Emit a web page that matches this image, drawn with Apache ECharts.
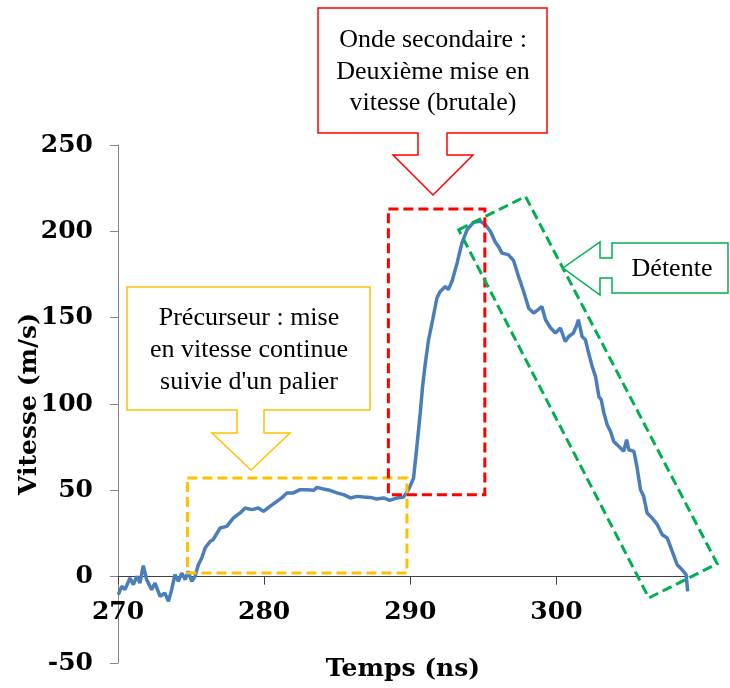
<!DOCTYPE html>
<html>
<head>
<meta charset="utf-8">
<script src="https://cdn.jsdelivr.net/npm/echarts@6.0.0/dist/echarts.min.js"></script>
<style>
  html, body { margin: 0; padding: 0; background: #fff; }
  #main { width: 730px; height: 688px; }
</style>
</head>
<body>
<div id="main"></div>
<script>
// temps (ns) et vitesse (m/s)
var temps = [270.02, 270.25, 270.48, 270.82, 271.05, 271.28, 271.5, 271.73, 271.96, 272.3,
  272.53, 272.88, 273.2, 273.45, 273.67, 273.9, 274.13, 274.36, 274.6, 274.8,
  275.05, 275.27, 275.5, 275.73, 275.96, 276.3, 276.5, 276.99, 277.44, 277.9,
  278.36, 278.7, 279.16, 279.6, 279.95, 280.4, 280.87, 281.2, 281.55, 282,
  282.46, 282.9, 283.4, 283.6, 284.06, 284.5, 284.98, 285.43, 285.9, 286.35,
  286.8, 287.26, 287.7, 288.17, 288.6, 289.09, 289.54, 289.88, 290.22, 290.45,
  290.68, 290.84, 291.03, 291.25, 291.53, 291.82, 292.05, 292.4, 292.6, 292.85,
  293.2, 293.53, 293.88, 294.33, 294.8, 295.14, 295.48, 295.8, 296.05, 296.27,
  296.7, 297.07, 297.4, 297.76, 298.1, 298.44, 298.8, 299.0, 299.25, 299.6,
  299.93, 300.27, 300.6, 300.84, 301.16, 301.4, 301.5, 301.75, 301.98, 302.2,
  302.44, 302.67, 302.9, 303.06, 303.24, 303.47, 303.7, 303.92, 304.38, 304.6,
  304.8, 304.95, 305.3, 305.5, 305.75, 305.97, 306.2, 306.55, 306.9, 307.24,
  307.58, 307.92, 308.26, 308.6, 308.87, 308.98];
var vitesse = [-10.4, -5.6, -7.5, -0.8, -4.6, 0.2, -3.7, 6.4, -1.7, -7.5,
  -3.7, -11.4, -9.5, -14.3, -7.5, 1.2, -2.7, 2.1, -1.7, 3.1,
  -2.7, 0.2, 6.9, 10.8, 16.6, 20.4, 21.4, 28.2, 29.1, 34,
  36.9, 39.8, 38.8, 39.8, 37.8, 40.7, 43.6, 45.6, 48.5, 48.5,
  50.4, 50.4, 50, 51.7, 50.8, 50, 48.5, 47.5, 45.6, 46.5,
  46.1, 45.9, 45, 45.6, 44.2, 45.6, 46.1, 50.4, 57, 75.4,
  94.8, 110.2, 123.7, 137.2, 148.8, 161.4, 165.2, 168.1, 166.2, 171,
  181.6, 193.2, 200.9, 205.2, 205.8, 203.8, 200, 194, 191, 187.4,
  186.5, 183, 174, 165, 155.5, 152.7, 155, 156.5, 148.8, 144,
  141.1, 144, 136.2, 139.1, 141.1, 145.9, 148.8, 139.1, 137.2, 129.5,
  121.8, 116, 104.4, 102.5, 95, 88, 84.1, 78.3, 74.5, 72.6,
  79.3, 73.5, 72.6, 63.9, 50.4, 46.5, 36.9, 33.9, 30.1, 24.3,
  22.4, 14.6, 6.9, 4, 1.2, -8.5];
var xTicks = [270, 280, 290, 300];

// cadres en pointillés (coordonnées données)
var cadrePrecurseur = [[274.75, 57.1], [289.77, 57.1], [289.77, 2.1], [274.75, 2.1]];
var cadreOnde = [[288.5, 212.9], [295.1, 212.9], [295.1, 47.5], [288.5, 47.5]];
var cadreDetente = [[293.31, 200.9], [297.88, 220.2], [311.0, 7.5], [306.32, -12.3]];

var myChart = echarts.init(document.getElementById('main'));

var data = [];
for (var i = 0; i < temps.length; i++) {
    data.push([temps[i], vitesse[i]]);
}

var axisFont = { fontFamily: 'DejaVu Serif', fontWeight: 'bold', fontSize: 25, color: '#000' };

myChart.setOption({
    animation: false,
    grid: { left: 118, right: 42, top: 145, bottom: 25, containLabel: false, outerBoundsMode: 'none' },
    xAxis: {
        type: 'value', min: 270, max: 309,
        name: 'Temps (ns)', nameLocation: 'middle', nameGap: 80, nameMoveOverlap: false,
        nameTextStyle: axisFont,
        axisLine: { onZero: false, lineStyle: { color: '#404040', width: 1 } },
        axisTick: { customValues: xTicks, length: 8, lineStyle: { color: '#404040' } },
        axisLabel: Object.assign({ customValues: xTicks, margin: 23 }, axisFont),
        splitLine: { show: false }
    },
    yAxis: {
        type: 'value', min: -50, max: 250, interval: 50,
        name: 'Vitesse (m/s)', nameLocation: 'middle', nameGap: 76, nameRotate: 90,
        nameMoveOverlap: false,
        nameTextStyle: axisFont,
        axisLine: { show: true, lineStyle: { color: '#868686', width: 1 } },
        axisTick: { show: true, length: 8, lineStyle: { color: '#868686' } },
        axisLabel: Object.assign({ margin: 25 }, axisFont),
        splitLine: { show: false }
    },
    series: [{
        type: 'line',
        data: data,
        showSymbol: false,
        lineStyle: { color: '#4A7EBB', width: 3.5 }
    }]
});

// l'axe des temps passe par v = 0
var yZero = myChart.convertToPixel({ yAxisIndex: 0 }, 0);
var yBas = myChart.convertToPixel({ yAxisIndex: 0 }, -50);
myChart.setOption({ xAxis: { offset: yZero - yBas } });

function toPx(pts) {
    return pts.map(function (p) { return myChart.convertToPixel({ gridIndex: 0 }, p); });
}
function cadre(pts, color) {
    return {
        type: 'polygon', z: 10,
        shape: { points: toPx(pts) },
        style: { fill: 'none', stroke: color, lineWidth: 3, lineDash: [10, 5] }
    };
}
function bulle(points, color) {
    return {
        type: 'polygon', z: 10,
        shape: { points: points },
        style: { fill: '#fff', stroke: color, lineWidth: 1.5 }
    };
}
function texte(txt, x, y, lh) {
    return {
        type: 'text', z: 11,
        style: {
            text: txt, x: x, y: y, align: 'center', verticalAlign: 'middle',
            font: '26px "Liberation Serif"', fill: '#000', lineHeight: lh
        }
    };
}

myChart.setOption({
    graphic: [
        cadre(cadrePrecurseur, '#FFC000'),
        cadre(cadreOnde, '#FF0000'),
        cadre(cadreDetente, '#00B050'),
        bulle([[127, 287], [370, 287], [370, 410], [264, 410], [264, 433], [290, 433],
            [251, 470], [212, 433], [237, 433], [237, 410], [127, 410]], '#FFC000'),
        texte('Précurseur : mise\nen vitesse continue\nsuivie d\'un palier', 249, 350, 32),
        bulle([[318, 8], [547, 8], [547, 133], [447, 133], [447, 155], [473, 155],
            [433, 195], [393, 155], [418, 155], [418, 133], [318, 133]], '#FF0000'),
        texte('Onde secondaire :\nDeuxième mise en\nvitesse (brutale)', 433, 72, 31.5),
        bulle([[612, 243], [728, 243], [728, 293], [612, 293], [612, 278], [600, 278],
            [600, 295], [563, 268], [600, 242], [600, 258], [612, 258]], '#00B050'),
        texte('Détente', 672, 269, 30)
    ]
});
</script>
</body>
</html>
